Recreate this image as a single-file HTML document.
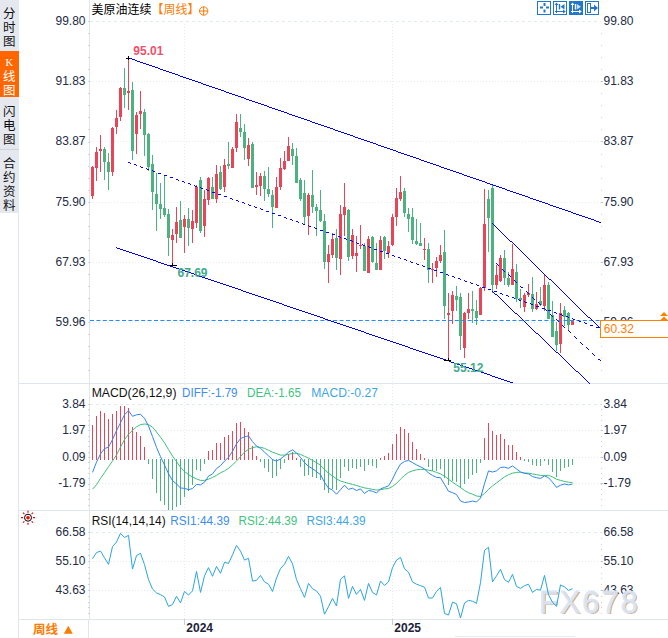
<!DOCTYPE html>
<html><head><meta charset="utf-8"><title>chart</title>
<style>
html,body{margin:0;padding:0;background:#fff}
body{width:668px;height:638px;overflow:hidden;position:relative}
svg{position:absolute;left:0;top:0;display:block}
text{font-family:"Liberation Sans",sans-serif}
.cjk{font-family:"Liberation Sans","Noto Sans CJK SC",sans-serif}
</style></head><body>
<svg width="668" height="638" viewBox="0 0 668 638">
<rect width="668" height="638" fill="#fff"/>
<rect x="0" y="0" width="19" height="213" fill="#e5e8ef"/>
<rect x="0" y="51" width="19" height="46" fill="#ff6600"/>
<path d="M0 149.5H19" stroke="#cfd4dc" stroke-width="1"/>
<path d="M18.5 213V638" stroke="#dfe6ee" stroke-width="1" fill="none"/>
<text class="cjk" x="9.2" y="18" font-size="12.5" fill="#111" text-anchor="middle">分</text>
<text class="cjk" x="9.2" y="32" font-size="12.5" fill="#111" text-anchor="middle">时</text>
<text class="cjk" x="9.2" y="46" font-size="12.5" fill="#111" text-anchor="middle">图</text>
<text class="cjk" x="9.2" y="81" font-size="12.5" fill="#fff" text-anchor="middle">线</text>
<text class="cjk" x="9.2" y="95" font-size="12.5" fill="#fff" text-anchor="middle">图</text>
<text class="cjk" x="9.2" y="116" font-size="12.5" fill="#111" text-anchor="middle">闪</text>
<text class="cjk" x="9.2" y="130" font-size="12.5" fill="#111" text-anchor="middle">电</text>
<text class="cjk" x="9.2" y="144" font-size="12.5" fill="#111" text-anchor="middle">图</text>
<text class="cjk" x="9.2" y="168" font-size="12.5" fill="#111" text-anchor="middle">合</text>
<text class="cjk" x="9.2" y="182" font-size="12.5" fill="#111" text-anchor="middle">约</text>
<text class="cjk" x="9.2" y="196" font-size="12.5" fill="#111" text-anchor="middle">资</text>
<text class="cjk" x="9.2" y="210" font-size="12.5" fill="#111" text-anchor="middle">料</text>
<text x="9.3" y="65.6" font-size="10.5" fill="#fff" text-anchor="middle" style="font-family:'Liberation Serif',serif">K</text>
<path d="M89.5 0V619.5" stroke="#dfe6ee" fill="none"/>
<path d="M19 383.5H668" stroke="#dfe6ee" fill="none"/>
<path d="M19 510.5H668" stroke="#dfe6ee" fill="none"/>
<path d="M19 619.5H668" stroke="#dfe6ee" fill="none"/>
<path d="M88 21.5H90M88 33.5H90M88 45.5H90M88 57.5H90M88 69.5H90M88 81.5H90M88 93.5H90M88 105.5H90M88 117.5H90M88 129.5H90M88 142.5H90M88 154.5H90M88 166.5H90M88 178.5H90M88 190.5H90M88 202.5H90M88 214.5H90M88 226.5H90M88 238.5H90M88 250.5H90M88 262.5H90M88 274.5H90M88 286.5H90M88 298.5H90M88 310.5H90M88 322.5H90M88 334.5H90M88 346.5H90M88 358.5H90M88 370.5H90" stroke="#cdd6e0" fill="none"/>
<path d="M601 33h1v1h-1zM601 45h1v1h-1zM601 57h1v1h-1zM601 69h1v1h-1zM601 81h1v1h-1zM601 93h1v1h-1zM601 105h1v1h-1zM601 117h1v1h-1zM601 129h1v1h-1zM601 141h1v1h-1zM601 154h1v1h-1zM601 166h1v1h-1zM601 178h1v1h-1zM601 190h1v1h-1zM601 202h1v1h-1zM601 214h1v1h-1zM601 226h1v1h-1zM601 238h1v1h-1zM601 250h1v1h-1zM601 262h1v1h-1zM601 274h1v1h-1zM601 286h1v1h-1zM601 298h1v1h-1zM601 310h1v1h-1zM601 322h1v1h-1zM601 334h1v1h-1zM601 346h1v1h-1zM601 358h1v1h-1zM601 370h1v1h-1z" fill="#c9d0dc"/>
<path d="M601 404h1v1h-1zM601 409h1v1h-1zM601 415h1v1h-1zM601 420h1v1h-1zM601 425h1v1h-1zM601 430h1v1h-1zM601 436h1v1h-1zM601 441h1v1h-1zM601 446h1v1h-1zM601 452h1v1h-1zM601 457h1v1h-1zM601 462h1v1h-1zM601 468h1v1h-1zM601 473h1v1h-1zM601 478h1v1h-1zM601 484h1v1h-1zM601 489h1v1h-1zM601 494h1v1h-1zM601 499h1v1h-1zM601 505h1v1h-1z" fill="#c9d0dc"/>
<path d="M601 532h1v1h-1zM601 538h1v1h-1zM601 544h1v1h-1zM601 549h1v1h-1zM601 555h1v1h-1zM601 561h1v1h-1zM601 567h1v1h-1zM601 573h1v1h-1zM601 578h1v1h-1zM601 584h1v1h-1zM601 590h1v1h-1zM601 596h1v1h-1zM601 602h1v1h-1zM601 607h1v1h-1zM601 613h1v1h-1z" fill="#c9d0dc"/>
<path d="M88 404.5H90M88 409.5H90M88 415.5H90M88 420.5H90M88 425.5H90M88 430.5H90M88 436.5H90M88 441.5H90M88 446.5H90M88 452.5H90M88 457.5H90M88 462.5H90M88 468.5H90M88 473.5H90M88 478.5H90M88 484.5H90M88 489.5H90M88 494.5H90M88 499.5H90M88 505.5H90" stroke="#cdd6e0" fill="none"/>
<path d="M88 532.5H90M88 538.5H90M88 544.5H90M88 549.5H90M88 555.5H90M88 561.5H90M88 567.5H90M88 573.5H90M88 578.5H90M88 584.5H90M88 590.5H90M88 596.5H90M88 602.5H90M88 607.5H90M88 613.5H90" stroke="#cdd6e0" fill="none"/>
<path d="M601 81.5H603M601 141.5H603M601 202.5H603M601 262.5H603M601 322.5H603M601 430.5H603M601 457.5H603M601 483.5H603M601 561.5H603M601 590.5H603" stroke="#b9c4d4" fill="none"/>
<path d="M90 21.5H601" stroke="#e1e9f1" stroke-dasharray="3 3" fill="none"/>
<path d="M90 81.5H601" stroke="#e7ebf1" stroke-dasharray="1 2" fill="none"/>
<path d="M90 141.5H601" stroke="#e7ebf1" stroke-dasharray="1 2" fill="none"/>
<path d="M90 202.5H601" stroke="#e7ebf1" stroke-dasharray="1 2" fill="none"/>
<path d="M90 262.5H601" stroke="#e7ebf1" stroke-dasharray="1 2" fill="none"/>
<path d="M90 322.5H601" stroke="#e7ebf1" stroke-dasharray="1 2" fill="none"/>
<path d="M90 404.5H601" stroke="#e1e9f1" stroke-dasharray="3 3" fill="none"/>
<path d="M90 430.5H601" stroke="#e7ebf1" stroke-dasharray="1 2" fill="none"/>
<path d="M90 457.5H601" stroke="#e7ebf1" stroke-dasharray="1 2" fill="none"/>
<path d="M90 483.5H601" stroke="#e7ebf1" stroke-dasharray="1 2" fill="none"/>
<path d="M90 532.5H601" stroke="#e1e9f1" stroke-dasharray="3 3" fill="none"/>
<path d="M90 561.5H601" stroke="#e7ebf1" stroke-dasharray="1 2" fill="none"/>
<path d="M90 590.5H601" stroke="#e7ebf1" stroke-dasharray="1 2" fill="none"/>
<path d="M184.5 24V619" stroke="#e7ebf1" stroke-dasharray="1 2" fill="none"/>
<path d="M184.5 619V625" stroke="#c5cedb" fill="none"/>
<path d="M392.5 24V619" stroke="#e7ebf1" stroke-dasharray="1 2" fill="none"/>
<path d="M392.5 619V625" stroke="#c5cedb" fill="none"/>
<path d="M92 166h1v33h-1zM91 167h3v29h-3zM96 147h1v34h-1zM95 152h3v16h-3zM100 135h1v37h-1zM99 149h3v2h-3zM112 127h1v49h-1zM111 128h3v44h-3zM116 110h1v24h-1zM115 118h3v9h-3zM120 87h1v34h-1zM119 88h3v29h-3zM128 58h1v52h-1zM127 91h3v2h-3zM136 112h1v42h-1zM135 115h3v19h-3zM140 91h1v38h-1zM139 111h3v3h-3zM172 229h1v36h-1zM171 235h3v5h-3zM176 207h1v36h-1zM175 222h3v12h-3zM184 215h1v38h-1zM183 219h3v8h-3zM192 210h1v33h-1zM191 221h3v8h-3zM196 185h1v43h-1zM195 187h3v36h-3zM204 190h1v47h-1zM203 199h3v27h-3zM208 177h1v28h-1zM207 178h3v22h-3zM216 165h1v38h-1zM215 174h3v25h-3zM224 159h1v33h-1zM223 165h3v22h-3zM232 147h1v21h-1zM231 149h3v19h-3zM236 114h1v38h-1zM235 122h3v26h-3zM248 138h1v28h-1zM247 145h3v14h-3zM256 172h1v23h-1zM255 185h3v2h-3zM260 173h1v23h-1zM259 176h3v10h-3zM276 177h1v31h-1zM275 187h3v21h-3zM280 158h1v32h-1zM279 168h3v19h-3zM284 151h1v19h-1zM283 161h3v8h-3zM288 137h1v24h-1zM287 146h3v15h-3zM308 193h1v42h-1zM307 195h3v21h-3zM328 245h1v38h-1zM327 254h3v8h-3zM332 233h1v25h-1zM331 239h3v16h-3zM340 205h1v70h-1zM339 214h3v45h-3zM344 183h1v53h-1zM343 207h3v8h-3zM352 229h1v30h-1zM351 235h3v21h-3zM356 236h1v36h-1zM355 253h3v3h-3zM360 225h1v24h-1zM359 245h3v1h-3zM368 236h1v37h-1zM367 239h3v34h-3zM380 236h1v34h-1zM379 240h3v30h-3zM388 241h1v17h-1zM387 246h3v7h-3zM392 214h1v32h-1zM391 217h3v28h-3zM396 188h1v38h-1zM395 198h3v19h-3zM400 176h1v25h-1zM399 192h3v7h-3zM424 238h1v22h-1zM423 249h3v1h-3zM432 263h1v20h-1zM431 269h3v1h-3zM436 257h1v20h-1zM435 261h3v7h-3zM440 245h1v18h-1zM439 255h3v6h-3zM448 293h1v67h-1zM447 313h3v2h-3zM452 291h1v33h-1zM451 295h3v16h-3zM464 312h1v46h-1zM463 313h3v35h-3zM468 293h1v26h-1zM467 309h3v4h-3zM480 287h1v28h-1zM479 288h3v27h-3zM484 189h1v102h-1zM483 224h3v64h-3zM496 265h1v24h-1zM495 275h3v10h-3zM500 255h1v27h-1zM499 258h3v23h-3zM512 244h1v41h-1zM511 269h3v16h-3zM524 293h1v19h-1zM523 295h3v12h-3zM528 284h1v13h-1zM527 293h3v2h-3zM536 292h1v18h-1zM535 304h3v5h-3zM544 275h1v36h-1zM543 285h3v21h-3zM560 303h1v50h-1zM559 313h3v31h-3zM572 320h1v5h-1zM571 321h3v4h-3z" fill="#ea4459" shape-rendering="crispEdges"/>
<path d="M104 147h1v33h-1zM103 149h3v13h-3zM108 153h1v37h-1zM107 162h3v10h-3zM124 68h1v40h-1zM123 88h3v7h-3zM132 82h1v78h-1zM131 90h3v61h-3zM144 109h1v47h-1zM143 112h3v23h-3zM148 133h1v38h-1zM147 134h3v33h-3zM152 155h1v55h-1zM151 164h3v28h-3zM156 173h1v58h-1zM155 194h3v10h-3zM160 183h1v36h-1zM159 204h3v5h-3zM164 176h1v41h-1zM163 208h3v7h-3zM168 209h1v47h-1zM167 214h3v24h-3zM180 201h1v37h-1zM179 220h3v18h-3zM188 208h1v38h-1zM187 219h3v9h-3zM200 177h1v56h-1zM199 180h3v51h-3zM212 177h1v22h-1zM211 187h3v12h-3zM220 166h1v24h-1zM219 172h3v17h-3zM228 142h1v27h-1zM227 164h3v2h-3zM240 114h1v23h-1zM239 128h3v4h-3zM244 124h1v36h-1zM243 132h3v16h-3zM252 142h1v46h-1zM251 144h3v44h-3zM264 171h1v30h-1zM263 176h3v13h-3zM268 167h1v30h-1zM267 189h3v5h-3zM272 190h1v38h-1zM271 195h3v12h-3zM292 143h1v22h-1zM291 149h3v7h-3zM296 148h1v35h-1zM295 156h3v27h-3zM300 178h1v23h-1zM299 180h3v19h-3zM304 180h1v44h-1zM303 193h3v24h-3zM312 170h1v43h-1zM311 195h3v12h-3zM316 204h1v32h-1zM315 207h3v4h-3zM320 190h1v32h-1zM319 210h3v11h-3zM324 214h1v55h-1zM323 221h3v41h-3zM336 229h1v41h-1zM335 238h3v20h-3zM348 209h1v52h-1zM347 210h3v47h-3zM364 243h1v28h-1zM363 246h3v25h-3zM372 236h1v27h-1zM371 237h3v25h-3zM376 243h1v27h-1zM375 263h3v7h-3zM384 236h1v23h-1zM383 237h3v14h-3zM404 188h1v29h-1zM403 191h3v22h-3zM408 208h1v24h-1zM407 214h3v5h-3zM412 208h1v36h-1zM411 217h3v23h-3zM416 219h1v26h-1zM415 241h3v3h-3zM420 223h1v23h-1zM419 243h3v3h-3zM428 243h1v40h-1zM427 249h3v21h-3zM444 230h1v89h-1zM443 252h3v54h-3zM456 286h1v25h-1zM455 296h3v4h-3zM460 293h1v57h-1zM459 297h3v39h-3zM472 291h1v32h-1zM471 309h3v2h-3zM476 300h1v25h-1zM475 311h3v7h-3zM488 190h1v62h-1zM487 199h3v19h-3zM492 185h1v108h-1zM491 188h3v97h-3zM504 250h1v35h-1zM503 258h3v20h-3zM508 272h1v15h-1zM507 278h3v7h-3zM516 264h1v38h-1zM515 272h3v27h-3zM520 289h1v19h-1zM519 298h3v2h-3zM532 277h1v35h-1zM531 294h3v15h-3zM540 287h1v19h-1zM539 301h3v4h-3zM548 282h1v37h-1zM547 285h3v34h-3zM552 301h1v36h-1zM551 315h3v22h-3zM556 322h1v29h-1zM555 331h3v14h-3zM564 306h1v20h-1zM563 310h3v7h-3zM568 312h1v19h-1zM567 313h3v12h-3z" fill="#4bb280" shape-rendering="crispEdges"/>
<clipPath id="mc"><rect x="90" y="384" width="512" height="126"/></clipPath>
<g clip-path="url(#mc)"><path d="M92 425h1v35h-1zM96 416h1v44h-1zM100 411h1v49h-1zM104 413h1v47h-1zM108 419h1v41h-1zM112 414h1v46h-1zM116 411h1v49h-1zM120 406h1v54h-1zM124 406h1v54h-1zM128 408h1v52h-1zM132 427h1v33h-1zM136 432h1v28h-1zM140 436h1v24h-1zM144 447h1v13h-1zM208 451h1v9h-1zM212 450h1v10h-1zM216 443h1v17h-1zM220 443h1v17h-1zM224 437h1v23h-1zM228 435h1v25h-1zM232 431h1v29h-1zM236 423h1v37h-1zM240 422h1v38h-1zM244 428h1v32h-1zM248 432h1v28h-1zM252 446h1v14h-1zM256 456h1v4h-1zM288 454h1v6h-1zM292 452h1v8h-1zM296 458h1v2h-1zM380 458h1v2h-1zM384 456h1v4h-1zM388 453h1v7h-1zM392 444h1v16h-1zM396 434h1v26h-1zM400 427h1v33h-1zM404 429h1v31h-1zM408 433h1v27h-1zM412 442h1v18h-1zM416 449h1v11h-1zM420 454h1v6h-1zM424 458h1v2h-1zM484 438h1v22h-1zM488 423h1v37h-1zM492 431h1v29h-1zM496 435h1v25h-1zM500 434h1v26h-1zM504 439h1v21h-1zM508 445h1v15h-1zM512 445h1v15h-1zM516 452h1v8h-1zM520 457h1v3h-1z" fill="#ea4459" shape-rendering="crispEdges"/><path d="M148 459h1v5h-1zM152 459h1v20h-1zM156 459h1v34h-1zM160 459h1v42h-1zM164 459h1v46h-1zM168 459h1v52h-1zM172 459h1v52h-1zM176 459h1v48h-1zM180 459h1v46h-1zM184 459h1v38h-1zM188 459h1v32h-1zM192 459h1v26h-1zM196 459h1v11h-1zM200 459h1v12h-1zM204 459h1v5h-1zM260 459h1v3h-1zM264 459h1v9h-1zM268 459h1v13h-1zM272 459h1v19h-1zM276 459h1v17h-1zM280 459h1v10h-1zM284 459h1v4h-1zM300 459h1v8h-1zM304 459h1v17h-1zM308 459h1v16h-1zM312 459h1v18h-1zM316 459h1v19h-1zM320 459h1v21h-1zM324 459h1v31h-1zM328 459h1v34h-1zM332 459h1v30h-1zM336 459h1v31h-1zM340 459h1v19h-1zM344 459h1v8h-1zM348 459h1v12h-1zM352 459h1v9h-1zM356 459h1v10h-1zM360 459h1v8h-1zM364 459h1v12h-1zM368 459h1v6h-1zM372 459h1v7h-1zM376 459h1v9h-1zM428 459h1v8h-1zM432 459h1v12h-1zM436 459h1v12h-1zM440 459h1v10h-1zM444 459h1v19h-1zM448 459h1v26h-1zM452 459h1v22h-1zM456 459h1v23h-1zM460 459h1v29h-1zM464 459h1v25h-1zM468 459h1v20h-1zM472 459h1v16h-1zM476 459h1v14h-1zM480 459h1v4h-1zM524 459h1v2h-1zM528 459h1v3h-1zM532 459h1v6h-1zM536 459h1v7h-1zM540 459h1v7h-1zM544 459h1v2h-1zM548 459h1v6h-1zM552 459h1v13h-1zM556 459h1v18h-1zM560 459h1v12h-1zM564 459h1v9h-1zM568 459h1v8h-1zM572 459h1v6h-1z" fill="#4bb280" shape-rendering="crispEdges"/>
<path d="M92.5 489.2L96.5 484.7L100.5 478.4L104.5 472.7L108.5 466.7L112.5 461.0L116.5 455.0L120.5 447.1L124.5 439.6L128.5 434.3L132.5 430.3L136.5 426.8L140.5 424.6L144.5 424.0L148.5 424.5L152.5 427.2L156.5 432.0L160.5 437.2L164.5 442.8L168.5 449.6L172.5 456.0L176.5 461.6L180.5 467.2L184.5 471.4L188.5 474.6L192.5 476.9L196.5 478.9L200.5 480.4L204.5 480.4L208.5 479.2L212.5 477.4L216.5 475.4L220.5 472.8L224.5 470.9L228.5 468.3L232.5 464.9L236.5 461.0L240.5 456.6L244.5 452.1L248.5 449.4L252.5 447.6L256.5 446.8L260.5 447.3L264.5 448.3L268.5 450.3L272.5 452.1L276.5 453.6L280.5 455.1L284.5 455.1L288.5 454.4L292.5 453.3L296.5 453.3L300.5 454.4L304.5 456.3L308.5 458.1L312.5 460.4L316.5 462.6L320.5 465.3L324.5 469.4L328.5 473.2L332.5 476.0L336.5 478.9L340.5 481.0L344.5 482.2L348.5 483.4L352.5 484.4L356.5 485.5L360.5 486.7L364.5 487.9L368.5 488.5L372.5 489.4L376.5 490.0L380.5 489.7L384.5 488.9L388.5 488.5L392.5 486.4L396.5 483.4L400.5 479.2L404.5 475.4L408.5 472.4L412.5 470.9L416.5 469.8L420.5 469.4L424.5 469.4L428.5 470.2L432.5 470.9L436.5 472.4L440.5 473.9L444.5 476.2L448.5 479.2L452.5 482.2L456.5 484.9L460.5 487.4L464.5 490.5L468.5 492.7L472.5 494.2L476.5 496.0L480.5 496.5L484.5 493.5L488.5 489.4L492.5 485.9L496.5 482.9L500.5 479.9L504.5 476.9L508.5 474.7L512.5 473.2L516.5 472.4L520.5 472.2L524.5 473.0L528.5 473.2L532.5 473.9L536.5 474.7L540.5 475.4L544.5 475.4L548.5 475.4L552.5 476.9L556.5 479.2L560.5 480.4L564.5 481.4L568.5 482.2L572.5 482.5" stroke="#3cc07e" stroke-width="1" fill="none" stroke-linejoin="round"/>
<path d="M92.5 472.4L96.5 462.2L100.5 453.9L104.5 448.6L108.5 447.1L112.5 439.6L116.5 430.6L120.5 422.8L124.5 414.8L128.5 410.7L132.5 416.3L136.5 414.8L140.5 414.3L144.5 418.3L148.5 426.0L152.5 436.5L156.5 447.4L160.5 456.7L164.5 465.0L168.5 473.7L172.5 480.5L176.5 483.9L180.5 488.0L184.5 488.3L188.5 489.7L192.5 488.5L196.5 484.4L200.5 484.9L204.5 482.2L208.5 476.2L212.5 473.9L216.5 468.6L220.5 465.6L224.5 461.1L228.5 457.4L232.5 451.3L236.5 443.8L240.5 438.6L244.5 436.8L248.5 435.9L252.5 441.6L256.5 446.1L260.5 448.3L264.5 452.1L268.5 455.9L272.5 459.6L276.5 461.1L280.5 458.9L284.5 455.9L288.5 452.1L292.5 449.8L296.5 452.9L300.5 457.4L304.5 462.6L308.5 466.4L312.5 468.6L316.5 471.7L320.5 474.7L324.5 482.2L328.5 488.2L332.5 490.0L336.5 494.2L340.5 489.7L344.5 485.2L348.5 489.4L352.5 488.2L356.5 490.5L360.5 488.9L364.5 493.5L368.5 490.5L372.5 491.2L376.5 493.0L380.5 488.9L384.5 487.4L388.5 485.9L392.5 479.2L396.5 470.9L400.5 464.1L404.5 461.4L408.5 460.4L412.5 462.6L416.5 464.9L420.5 466.8L424.5 468.9L428.5 473.0L432.5 475.4L436.5 477.4L440.5 477.7L444.5 484.4L448.5 491.2L452.5 492.7L456.5 494.5L460.5 501.0L464.5 502.5L468.5 502.0L472.5 501.0L476.5 502.0L480.5 498.0L484.5 483.7L488.5 470.9L492.5 472.0L496.5 470.9L500.5 467.4L504.5 467.1L508.5 468.3L512.5 465.9L516.5 468.9L520.5 472.0L524.5 473.3L528.5 473.9L532.5 476.5L536.5 477.7L540.5 478.4L544.5 475.9L548.5 477.7L552.5 482.2L556.5 487.4L560.5 485.2L564.5 484.0L568.5 484.9L572.5 484.0" stroke="#2e86f0" stroke-width="1" fill="none" stroke-linejoin="round"/>
</g>
<path d="M90 320.5H600" stroke="#1e8bff" stroke-width="1.2" stroke-dasharray="4 2.4" fill="none"/>
<path d="M128 57h1v1h-1zM129 58h3v1h-3zM132 59h3v1h-3zM135 60h2v1h-2zM137 61h3v1h-3zM140 62h3v1h-3zM143 63h3v1h-3zM146 64h3v1h-3zM149 65h3v1h-3zM152 66h3v1h-3zM155 67h3v1h-3zM158 68h2v1h-2zM160 69h3v1h-3zM163 70h3v1h-3zM166 71h3v1h-3zM169 72h3v1h-3zM172 73h3v1h-3zM175 74h3v1h-3zM178 75h2v1h-2zM180 76h3v1h-3zM183 77h3v1h-3zM186 78h3v1h-3zM189 79h3v1h-3zM192 80h3v1h-3zM195 81h3v1h-3zM198 82h3v1h-3zM201 83h2v1h-2zM203 84h3v1h-3zM206 85h3v1h-3zM209 86h3v1h-3zM212 87h3v1h-3zM215 88h3v1h-3zM218 89h3v1h-3zM221 90h3v1h-3zM224 91h2v1h-2zM226 92h3v1h-3zM229 93h3v1h-3zM232 94h3v1h-3zM235 95h3v1h-3zM238 96h3v1h-3zM241 97h3v1h-3zM244 98h2v1h-2zM246 99h3v1h-3zM249 100h3v1h-3zM252 101h3v1h-3zM255 102h3v1h-3zM258 103h3v1h-3zM261 104h3v1h-3zM264 105h3v1h-3zM267 106h2v1h-2zM269 107h3v1h-3zM272 108h3v1h-3zM275 109h3v1h-3zM278 110h3v1h-3zM281 111h3v1h-3zM284 112h3v1h-3zM287 113h2v1h-2zM289 114h3v1h-3zM292 115h3v1h-3zM295 116h3v1h-3zM298 117h3v1h-3zM301 118h3v1h-3zM304 119h3v1h-3zM307 120h3v1h-3zM310 121h2v1h-2zM312 122h3v1h-3zM315 123h3v1h-3zM318 124h3v1h-3zM321 125h3v1h-3zM324 126h3v1h-3zM327 127h3v1h-3zM330 128h3v1h-3zM333 129h2v1h-2zM335 130h3v1h-3zM338 131h3v1h-3zM341 132h3v1h-3zM344 133h3v1h-3zM347 134h3v1h-3zM350 135h3v1h-3zM353 136h2v1h-2zM355 137h3v1h-3zM358 138h3v1h-3zM361 139h3v1h-3zM364 140h3v1h-3zM367 141h3v1h-3zM370 142h3v1h-3zM373 143h3v1h-3zM376 144h2v1h-2zM378 145h3v1h-3zM381 146h3v1h-3zM384 147h3v1h-3zM387 148h3v1h-3zM390 149h3v1h-3zM393 150h3v1h-3zM396 151h2v1h-2zM398 152h3v1h-3zM401 153h3v1h-3zM404 154h3v1h-3zM407 155h3v1h-3zM410 156h3v1h-3zM413 157h3v1h-3zM416 158h3v1h-3zM419 159h2v1h-2zM421 160h3v1h-3zM424 161h3v1h-3zM427 162h3v1h-3zM430 163h3v1h-3zM433 164h3v1h-3zM436 165h3v1h-3zM439 166h2v1h-2zM441 167h3v1h-3zM444 168h3v1h-3zM447 169h3v1h-3zM450 170h3v1h-3zM453 171h3v1h-3zM456 172h3v1h-3zM459 173h3v1h-3zM462 174h2v1h-2zM464 175h3v1h-3zM467 176h3v1h-3zM470 177h3v1h-3zM473 178h3v1h-3zM476 179h3v1h-3zM479 180h3v1h-3zM482 181h3v1h-3zM485 182h2v1h-2zM487 183h3v1h-3zM490 184h3v1h-3zM493 185h3v1h-3zM496 186h3v1h-3zM499 187h3v1h-3zM502 188h3v1h-3zM505 189h2v1h-2zM507 190h3v1h-3zM510 191h3v1h-3zM513 192h3v1h-3zM516 193h3v1h-3zM519 194h3v1h-3zM522 195h3v1h-3zM525 196h3v1h-3zM528 197h2v1h-2zM530 198h3v1h-3zM533 199h3v1h-3zM536 200h3v1h-3zM539 201h3v1h-3zM542 202h3v1h-3zM545 203h3v1h-3zM548 204h2v1h-2zM550 205h3v1h-3zM553 206h3v1h-3zM556 207h3v1h-3zM559 208h3v1h-3zM562 209h3v1h-3zM565 210h3v1h-3zM568 211h3v1h-3zM571 212h2v1h-2zM573 213h3v1h-3zM576 214h3v1h-3zM579 215h3v1h-3zM582 216h3v1h-3zM585 217h3v1h-3zM588 218h3v1h-3zM591 219h3v1h-3zM594 220h2v1h-2zM596 221h3v1h-3zM599 222h2v1h-2zM116 247h1v1h-1zM117 248h3v1h-3zM120 249h3v1h-3zM123 250h3v1h-3zM126 251h3v1h-3zM129 252h3v1h-3zM132 253h3v1h-3zM135 254h3v1h-3zM138 255h3v1h-3zM141 256h3v1h-3zM144 257h3v1h-3zM147 258h3v1h-3zM150 259h3v1h-3zM153 260h3v1h-3zM156 261h2v1h-2zM158 262h3v1h-3zM161 263h3v1h-3zM164 264h3v1h-3zM167 265h3v1h-3zM170 266h3v1h-3zM173 267h3v1h-3zM176 268h3v1h-3zM179 269h3v1h-3zM182 270h3v1h-3zM185 271h3v1h-3zM188 272h3v1h-3zM191 273h3v1h-3zM194 274h3v1h-3zM197 275h2v1h-2zM199 276h3v1h-3zM202 277h3v1h-3zM205 278h3v1h-3zM208 279h3v1h-3zM211 280h3v1h-3zM214 281h3v1h-3zM217 282h3v1h-3zM220 283h3v1h-3zM223 284h3v1h-3zM226 285h3v1h-3zM229 286h3v1h-3zM232 287h3v1h-3zM235 288h3v1h-3zM238 289h3v1h-3zM241 290h2v1h-2zM243 291h3v1h-3zM246 292h3v1h-3zM249 293h3v1h-3zM252 294h3v1h-3zM255 295h3v1h-3zM258 296h3v1h-3zM261 297h3v1h-3zM264 298h3v1h-3zM267 299h3v1h-3zM270 300h3v1h-3zM273 301h3v1h-3zM276 302h3v1h-3zM279 303h3v1h-3zM282 304h2v1h-2zM284 305h3v1h-3zM287 306h3v1h-3zM290 307h3v1h-3zM293 308h3v1h-3zM296 309h3v1h-3zM299 310h3v1h-3zM302 311h3v1h-3zM305 312h3v1h-3zM308 313h3v1h-3zM311 314h3v1h-3zM314 315h3v1h-3zM317 316h3v1h-3zM320 317h3v1h-3zM323 318h2v1h-2zM325 319h3v1h-3zM328 320h3v1h-3zM331 321h3v1h-3zM334 322h3v1h-3zM337 323h3v1h-3zM340 324h3v1h-3zM343 325h3v1h-3zM346 326h3v1h-3zM349 327h3v1h-3zM352 328h3v1h-3zM355 329h3v1h-3zM358 330h3v1h-3zM361 331h3v1h-3zM364 332h2v1h-2zM366 333h3v1h-3zM369 334h3v1h-3zM372 335h3v1h-3zM375 336h3v1h-3zM378 337h3v1h-3zM381 338h3v1h-3zM384 339h3v1h-3zM387 340h3v1h-3zM390 341h3v1h-3zM393 342h3v1h-3zM396 343h3v1h-3zM399 344h3v1h-3zM402 345h3v1h-3zM405 346h3v1h-3zM408 347h2v1h-2zM410 348h3v1h-3zM413 349h3v1h-3zM416 350h3v1h-3zM419 351h3v1h-3zM422 352h3v1h-3zM425 353h3v1h-3zM428 354h3v1h-3zM431 355h3v1h-3zM434 356h3v1h-3zM437 357h3v1h-3zM440 358h3v1h-3zM443 359h3v1h-3zM446 360h3v1h-3zM449 361h2v1h-2zM451 362h3v1h-3zM454 363h3v1h-3zM457 364h3v1h-3zM460 365h3v1h-3zM463 366h3v1h-3zM466 367h3v1h-3zM469 368h3v1h-3zM472 369h3v1h-3zM475 370h3v1h-3zM478 371h3v1h-3zM481 372h3v1h-3zM484 373h3v1h-3zM487 374h3v1h-3zM490 375h2v1h-2zM492 376h3v1h-3zM495 377h3v1h-3zM498 378h3v1h-3zM501 379h3v1h-3zM504 380h3v1h-3zM507 381h3v1h-3zM510 382h3v1h-3zM128 162h2v1h-2zM130 163h1v1h-1zM134 164h2v1h-2zM136 165h1v1h-1zM140 166h1v1h-1zM141 167h2v1h-2zM146 168h1v1h-1zM147 169h2v1h-2zM152 170h1v1h-1zM153 171h2v1h-2zM158 173h3v1h-3zM164 175h3v1h-3zM170 177h3v1h-3zM176 179h2v1h-2zM178 180h1v1h-1zM182 181h2v1h-2zM184 182h1v1h-1zM188 183h2v1h-2zM190 184h1v1h-1zM194 185h1v1h-1zM195 186h2v1h-2zM200 187h1v1h-1zM201 188h2v1h-2zM206 189h1v1h-1zM207 190h2v1h-2zM212 192h3v1h-3zM218 194h3v1h-3zM224 196h3v1h-3zM230 198h2v1h-2zM232 199h1v1h-1zM236 200h2v1h-2zM238 201h1v1h-1zM242 202h2v1h-2zM244 203h1v1h-1zM248 204h1v1h-1zM249 205h2v1h-2zM254 206h1v1h-1zM255 207h2v1h-2zM260 208h1v1h-1zM261 209h2v1h-2zM266 211h3v1h-3zM272 213h3v1h-3zM278 215h3v1h-3zM284 217h2v1h-2zM286 218h1v1h-1zM290 219h2v1h-2zM292 220h1v1h-1zM296 221h2v1h-2zM298 222h1v1h-1zM302 223h1v1h-1zM303 224h2v1h-2zM308 225h1v1h-1zM309 226h2v1h-2zM314 227h1v1h-1zM315 228h2v1h-2zM320 230h3v1h-3zM326 232h3v1h-3zM332 234h3v1h-3zM338 236h2v1h-2zM340 237h1v1h-1zM344 238h2v1h-2zM346 239h1v1h-1zM350 240h2v1h-2zM352 241h1v1h-1zM356 242h1v1h-1zM357 243h2v1h-2zM362 244h1v1h-1zM363 245h2v1h-2zM368 246h1v1h-1zM369 247h2v1h-2zM374 249h3v1h-3zM380 251h3v1h-3zM386 253h3v1h-3zM392 255h2v1h-2zM394 256h1v1h-1zM398 257h2v1h-2zM400 258h1v1h-1zM404 259h2v1h-2zM406 260h1v1h-1zM410 261h1v1h-1zM411 262h2v1h-2zM416 263h1v1h-1zM417 264h2v1h-2zM422 265h1v1h-1zM423 266h2v1h-2zM428 268h3v1h-3zM434 270h3v1h-3zM440 272h3v1h-3zM446 274h2v1h-2zM448 275h1v1h-1zM452 276h2v1h-2zM454 277h1v1h-1zM458 278h2v1h-2zM460 279h1v1h-1zM464 280h1v1h-1zM465 281h2v1h-2zM470 282h1v1h-1zM471 283h2v1h-2zM476 284h1v1h-1zM477 285h2v1h-2zM482 287h3v1h-3zM488 289h3v1h-3zM494 291h3v1h-3zM500 293h2v1h-2zM502 294h1v1h-1zM506 295h2v1h-2zM508 296h1v1h-1zM512 297h2v1h-2zM514 298h1v1h-1zM518 299h1v1h-1zM519 300h2v1h-2zM524 301h1v1h-1zM525 302h2v1h-2zM530 303h1v1h-1zM531 304h2v1h-2zM536 306h3v1h-3zM542 308h3v1h-3zM548 310h3v1h-3zM554 312h2v1h-2zM556 313h1v1h-1zM560 314h2v1h-2zM562 315h1v1h-1zM566 316h2v1h-2zM568 317h1v1h-1zM572 318h1v1h-1zM573 319h2v1h-2zM578 320h1v1h-1zM579 321h2v1h-2zM584 322h1v1h-1zM585 323h2v1h-2zM590 325h3v1h-3zM596 327h3v1h-3zM492 223h1v1h-1zM493 224h1v1h-1zM494 225h1v1h-1zM495 226h1v1h-1zM496 227h1v1h-1zM497 228h1v1h-1zM498 229h1v1h-1zM499 230h1v1h-1zM500 231h1v1h-1zM501 232h1v1h-1zM502 233h1v1h-1zM503 234h1v1h-1zM504 235h1v1h-1zM505 236h1v1h-1zM506 237h1v1h-1zM507 238h1v1h-1zM508 239h1v1h-1zM509 240h1v1h-1zM510 241h2v1h-2zM512 242h1v1h-1zM513 243h1v1h-1zM514 244h1v1h-1zM515 245h1v1h-1zM516 246h1v1h-1zM517 247h1v1h-1zM518 248h1v1h-1zM519 249h1v1h-1zM520 250h1v1h-1zM521 251h1v1h-1zM522 252h1v1h-1zM523 253h1v1h-1zM524 254h1v1h-1zM525 255h1v1h-1zM526 256h1v1h-1zM527 257h1v1h-1zM528 258h1v1h-1zM529 259h1v1h-1zM530 260h1v1h-1zM531 261h1v1h-1zM532 262h1v1h-1zM533 263h1v1h-1zM534 264h1v1h-1zM535 265h1v1h-1zM536 266h1v1h-1zM537 267h1v1h-1zM538 268h1v1h-1zM539 269h1v1h-1zM540 270h1v1h-1zM541 271h1v1h-1zM542 272h1v1h-1zM543 273h1v1h-1zM544 274h1v1h-1zM545 275h1v1h-1zM546 276h1v1h-1zM547 277h1v1h-1zM548 278h1v1h-1zM549 279h2v1h-2zM551 280h1v1h-1zM552 281h1v1h-1zM553 282h1v1h-1zM554 283h1v1h-1zM555 284h1v1h-1zM556 285h1v1h-1zM557 286h1v1h-1zM558 287h1v1h-1zM559 288h1v1h-1zM560 289h1v1h-1zM561 290h1v1h-1zM562 291h1v1h-1zM563 292h1v1h-1zM564 293h1v1h-1zM565 294h1v1h-1zM566 295h1v1h-1zM567 296h1v1h-1zM568 297h1v1h-1zM569 298h1v1h-1zM570 299h1v1h-1zM571 300h1v1h-1zM572 301h1v1h-1zM573 302h1v1h-1zM574 303h1v1h-1zM575 304h1v1h-1zM576 305h1v1h-1zM577 306h1v1h-1zM578 307h1v1h-1zM579 308h1v1h-1zM580 309h1v1h-1zM581 310h1v1h-1zM582 311h1v1h-1zM583 312h1v1h-1zM584 313h1v1h-1zM585 314h1v1h-1zM586 315h1v1h-1zM587 316h1v1h-1zM588 317h2v1h-2zM590 318h1v1h-1zM591 319h1v1h-1zM592 320h1v1h-1zM593 321h1v1h-1zM594 322h1v1h-1zM595 323h1v1h-1zM596 324h1v1h-1zM597 325h1v1h-1zM598 326h1v1h-1zM599 327h1v1h-1zM600 328h1v1h-1zM492 291h1v1h-1zM493 292h1v1h-1zM494 293h1v1h-1zM495 294h2v1h-2zM497 295h1v1h-1zM498 296h1v1h-1zM499 297h1v1h-1zM500 298h1v1h-1zM501 299h1v1h-1zM502 300h1v1h-1zM503 301h1v1h-1zM504 302h1v1h-1zM505 303h1v1h-1zM506 304h1v1h-1zM507 305h1v1h-1zM508 306h1v1h-1zM509 307h1v1h-1zM510 308h1v1h-1zM511 309h1v1h-1zM512 310h1v1h-1zM513 311h1v1h-1zM514 312h1v1h-1zM515 313h2v1h-2zM517 314h1v1h-1zM518 315h1v1h-1zM519 316h1v1h-1zM520 317h1v1h-1zM521 318h1v1h-1zM522 319h1v1h-1zM523 320h1v1h-1zM524 321h1v1h-1zM525 322h1v1h-1zM526 323h1v1h-1zM527 324h1v1h-1zM528 325h1v1h-1zM529 326h1v1h-1zM530 327h1v1h-1zM531 328h1v1h-1zM532 329h1v1h-1zM533 330h1v1h-1zM534 331h1v1h-1zM535 332h1v1h-1zM536 333h2v1h-2zM538 334h1v1h-1zM539 335h1v1h-1zM540 336h1v1h-1zM541 337h1v1h-1zM542 338h1v1h-1zM543 339h1v1h-1zM544 340h1v1h-1zM545 341h1v1h-1zM546 342h1v1h-1zM547 343h1v1h-1zM548 344h1v1h-1zM549 345h1v1h-1zM550 346h1v1h-1zM551 347h1v1h-1zM552 348h1v1h-1zM553 349h1v1h-1zM554 350h1v1h-1zM555 351h1v1h-1zM556 352h2v1h-2zM558 353h1v1h-1zM559 354h1v1h-1zM560 355h1v1h-1zM561 356h1v1h-1zM562 357h1v1h-1zM563 358h1v1h-1zM564 359h1v1h-1zM565 360h1v1h-1zM566 361h1v1h-1zM567 362h1v1h-1zM568 363h1v1h-1zM569 364h1v1h-1zM570 365h1v1h-1zM571 366h1v1h-1zM572 367h1v1h-1zM573 368h1v1h-1zM574 369h1v1h-1zM575 370h1v1h-1zM576 371h2v1h-2zM578 372h1v1h-1zM579 373h1v1h-1zM580 374h1v1h-1zM581 375h1v1h-1zM582 376h1v1h-1zM583 377h1v1h-1zM584 378h1v1h-1zM585 379h1v1h-1zM586 380h1v1h-1zM587 381h1v1h-1zM588 382h1v1h-1zM589 383h1v1h-1zM496 263h1v1h-1zM497 264h1v1h-1zM498 265h1v1h-1zM502 269h1v1h-1zM503 270h1v1h-1zM504 271h1v1h-1zM508 274h1v1h-1zM509 275h1v1h-1zM510 276h1v1h-1zM514 280h1v1h-1zM515 281h1v1h-1zM516 282h1v1h-1zM520 286h1v1h-1zM521 287h2v1h-2zM526 291h1v1h-1zM527 292h1v1h-1zM528 293h1v1h-1zM532 297h1v1h-1zM533 298h1v1h-1zM534 299h1v1h-1zM538 302h1v1h-1zM539 303h1v1h-1zM540 304h1v1h-1zM544 308h1v1h-1zM545 309h1v1h-1zM546 310h1v1h-1zM550 314h1v1h-1zM551 315h1v1h-1zM552 316h1v1h-1zM556 319h1v1h-1zM557 320h1v1h-1zM558 321h1v1h-1zM562 325h1v1h-1zM563 326h1v1h-1zM564 327h1v1h-1zM568 330h1v1h-1zM569 331h1v1h-1zM570 332h1v1h-1zM574 336h1v1h-1zM575 337h1v1h-1zM576 338h1v1h-1zM580 342h1v1h-1zM581 343h1v1h-1zM582 344h1v1h-1zM586 347h1v1h-1zM587 348h1v1h-1zM588 349h1v1h-1zM592 353h1v1h-1zM593 354h1v1h-1zM594 355h1v1h-1zM598 359h2v1h-2zM600 360h1v1h-1z" fill="#0000ff" shape-rendering="crispEdges"/>
<path d="M126 58.5H130M128.5 56V60" stroke="#000" fill="none"/>
<path d="M170 265.5H177M172.5 263V266" stroke="#000" fill="none"/>
<path d="M444 360.5H451M448.5 358V361" stroke="#000" fill="none"/>
<text x="85.5" y="24.6" font-size="12" fill="#232b45" text-anchor="end">99.80</text>
<text x="603.5" y="24.6" font-size="12" fill="#232b45" text-anchor="start">99.80</text>
<text x="85.5" y="84.6" font-size="12" fill="#232b45" text-anchor="end">91.83</text>
<text x="603.5" y="84.6" font-size="12" fill="#232b45" text-anchor="start">91.83</text>
<text x="85.5" y="144.6" font-size="12" fill="#232b45" text-anchor="end">83.87</text>
<text x="603.5" y="144.6" font-size="12" fill="#232b45" text-anchor="start">83.87</text>
<text x="85.5" y="205.6" font-size="12" fill="#232b45" text-anchor="end">75.90</text>
<text x="603.5" y="205.6" font-size="12" fill="#232b45" text-anchor="start">75.90</text>
<text x="85.5" y="265.6" font-size="12" fill="#232b45" text-anchor="end">67.93</text>
<text x="603.5" y="265.6" font-size="12" fill="#232b45" text-anchor="start">67.93</text>
<text x="85.5" y="325.6" font-size="12" fill="#232b45" text-anchor="end">59.96</text>
<text x="603.5" y="325.6" font-size="12" fill="#232b45" text-anchor="start">59.96</text>
<text x="85.5" y="407.6" font-size="12" fill="#232b45" text-anchor="end">3.84</text>
<text x="603.5" y="407.6" font-size="12" fill="#232b45" text-anchor="start">3.84</text>
<text x="85.5" y="433.6" font-size="12" fill="#232b45" text-anchor="end">1.97</text>
<text x="603.5" y="433.6" font-size="12" fill="#232b45" text-anchor="start">1.97</text>
<text x="85.5" y="460.6" font-size="12" fill="#232b45" text-anchor="end">0.09</text>
<text x="603.5" y="460.6" font-size="12" fill="#232b45" text-anchor="start">0.09</text>
<text x="85.5" y="486.6" font-size="12" fill="#232b45" text-anchor="end">-1.79</text>
<text x="603.5" y="486.6" font-size="12" fill="#232b45" text-anchor="start">-1.79</text>
<text x="85.5" y="535.6" font-size="12" fill="#232b45" text-anchor="end">66.58</text>
<text x="603.5" y="535.6" font-size="12" fill="#232b45" text-anchor="start">66.58</text>
<text x="85.5" y="564.6" font-size="12" fill="#232b45" text-anchor="end">55.10</text>
<text x="603.5" y="564.6" font-size="12" fill="#232b45" text-anchor="start">55.10</text>
<text x="85.5" y="593.6" font-size="12" fill="#232b45" text-anchor="end">43.63</text>
<text x="603.5" y="593.6" font-size="12" fill="#232b45" text-anchor="start">43.63</text>
<text x="133.3" y="55" font-size="12" fill="#ef4f6b" text-anchor="start" font-weight="bold">95.01</text>
<text x="177.5" y="276.7" font-size="12" fill="#43ab8b" text-anchor="start" font-weight="bold">67.69</text>
<text x="453.3" y="372" font-size="12" fill="#43ab8b" text-anchor="start" font-weight="bold">55.12</text>
<text x="186.3" y="632" font-size="12" fill="#1d2338" text-anchor="start" font-weight="bold">2024</text>
<text x="394.3" y="632" font-size="12" fill="#1d2338" text-anchor="start" font-weight="bold">2025</text>
<text x="91.7" y="397" font-size="12" fill="#111" text-anchor="start" textLength="84.8" lengthAdjust="spacingAndGlyphs">MACD(26,12,9)</text>
<text x="182" y="397" font-size="12" fill="#3d8ef0" text-anchor="start" textLength="55.6" lengthAdjust="spacingAndGlyphs">DIFF:-1.79</text>
<text x="247" y="397" font-size="12" fill="#3fc47f" text-anchor="start" textLength="54" lengthAdjust="spacingAndGlyphs">DEA:-1.65</text>
<text x="311.2" y="397" font-size="12" fill="#3fa6e6" text-anchor="start" textLength="66.8" lengthAdjust="spacingAndGlyphs">MACD:-0.27</text>
<text x="91.7" y="525.2" font-size="12" fill="#111" text-anchor="start" textLength="74" lengthAdjust="spacingAndGlyphs">RSI(14,14,14)</text>
<text x="170.3" y="525.2" font-size="12" fill="#3d8ef0" text-anchor="start" textLength="59.3" lengthAdjust="spacingAndGlyphs">RSI1:44.39</text>
<text x="238.6" y="525.2" font-size="12" fill="#3fc47f" text-anchor="start" textLength="58.6" lengthAdjust="spacingAndGlyphs">RSI2:44.39</text>
<text x="306.4" y="525.2" font-size="12" fill="#3fa6e6" text-anchor="start" textLength="59.2" lengthAdjust="spacingAndGlyphs">RSI3:44.39</text>
<text class="cjk" x="91.5" y="14.3" font-size="12" fill="#000" text-anchor="start">美原油连续</text>
<text class="cjk" x="151.5" y="14.3" font-size="12" fill="#ff7a00" text-anchor="start">【周线】</text>
<g stroke="#ff7a00" fill="none"><circle cx="203.7" cy="11" r="4.2"/><path d="M199.5 11H208M203.7 6.8V15.2"/></g>
<text class="cjk" x="33" y="634.4" font-size="12.5" font-weight="bold" fill="#ff7a00" text-anchor="start">周线</text>
<path d="M63.8 633.8L68.3 625.8L72.8 633.8z" fill="#ff7a00"/>
<path d="M88.5 619V638" stroke="#dfe6ee" fill="none"/>
<rect x="600.5" y="320.5" width="70" height="17" fill="#fff" stroke="#ff8000"/>
<text x="603.8" y="333" font-size="12" fill="#ff8000" text-anchor="start">60.32</text>
<path d="M660 316L664 312L668 316zM660 320.5L664 316.5L668 320.5z" fill="#ff8000"/>
<rect x="537.5" y="1.5" width="13" height="13" fill="#fff" stroke="#2277cc"/>
<rect x="553.5" y="1.5" width="13" height="13" fill="#fff" stroke="#2277cc"/>
<rect x="569.5" y="1.5" width="13" height="13" fill="#2277cc" stroke="#2277cc"/>
<rect x="585.5" y="1.5" width="13" height="13" fill="#fff" stroke="#2277cc"/>
<path d="M540 7.5H543M546 7.5H549M544.5 3V6M544.5 9.5V12.5" stroke="#2277cc" stroke-width="2" fill="none"/>
<g stroke="#2277cc" fill="none"><path d="M556.5 3V13M555 11.5H565"/><path d="M559.5 4V9.5" stroke-width="1.4"/></g><path d="M564.5 4V9.5L560.5 6.75z" fill="#2277cc"/><path d="M554.5 5L556.5 2.5L558.5 5zM563 9.5L565.8 11.5L563 13.5z" fill="#2277cc"/>
<g stroke="#fff" fill="none"><path d="M572.5 3V13M571 11.5H581"/><path d="M575.5 4V9.5" stroke-width="1.4"/></g><path d="M576.8 4V9.5L581 6.75z" fill="#cfe2f7"/><path d="M570.5 5L572.5 2.5L574.5 5zM579 9.5L581.8 11.5L579 13.5z" fill="#fff"/>
<rect x="587.5" y="3.5" width="3" height="9" fill="#fff" stroke="#2277cc"/><path d="M590 8H595" stroke="#2277cc" stroke-width="2" fill="none"/><path d="M594 4.5L598 8L594 11.5z" fill="#2277cc"/>
<g><circle cx="28" cy="517.7" r="3.5" fill="#fff" stroke="#000"/><circle cx="28" cy="517.7" r="1.8" fill="#f00"/><path d="M28 510.7v2M28 522.7v2M21 517.7h2M33 517.7h2M23 512.7l1.4 1.4M31.6 521.3l1.4 1.4M33 512.7l-1.4 1.4M24.4 521.3l-1.4 1.4" stroke="#f00" stroke-width="1.2" fill="none"/></g>
<defs><filter id="wb" x="-5%" y="-20%" width="110%" height="140%"><feGaussianBlur stdDeviation="0.7"/></filter></defs>
<text x="540.4" y="614.4" font-size="30.5" letter-spacing="2.2" fill="#a47a5c" fill-opacity=".6" filter="url(#wb)">FX678</text>
<text x="539" y="613" font-size="30.5" letter-spacing="2.2" fill="#dbe5f3" stroke="#dbe5f3" stroke-width="0.9" fill-opacity=".93" stroke-opacity=".93">FX678</text>
<path d="M455 636.5H575" stroke="#e6ebf2" fill="none"/>
<path d="M92.5 558.6L96.5 552.6L100.5 551.1L104.5 557.8L108.5 564.3L112.5 546.6L116.5 542.0L120.5 533.3L124.5 537.5L128.5 535.3L132.5 569.1L136.5 555.6L140.5 553.3L144.5 564.6L148.5 579.6L152.5 589.0L156.5 592.9L160.5 594.7L164.5 596.9L168.5 606.4L172.5 604.5L176.5 596.2L180.5 602.9L184.5 591.4L188.5 595.0L192.5 590.9L196.5 571.4L200.5 592.4L204.5 575.9L208.5 567.6L212.5 576.3L216.5 566.4L220.5 573.3L224.5 562.3L228.5 563.4L232.5 554.8L236.5 545.4L240.5 551.1L244.5 560.1L248.5 558.3L252.5 581.1L256.5 580.4L260.5 575.4L264.5 581.9L268.5 584.2L272.5 591.4L276.5 578.1L280.5 568.6L284.5 564.2L288.5 556.3L292.5 563.8L296.5 579.6L300.5 588.7L304.5 597.4L308.5 583.4L312.5 588.7L316.5 590.9L320.5 596.2L324.5 614.2L328.5 606.7L332.5 598.4L336.5 606.0L340.5 579.3L344.5 575.9L348.5 598.4L352.5 586.4L356.5 594.4L360.5 589.4L364.5 600.4L368.5 583.4L372.5 592.4L376.5 595.0L380.5 581.0L384.5 585.4L388.5 581.9L392.5 567.6L396.5 560.1L400.5 557.4L404.5 568.8L408.5 572.1L412.5 581.9L416.5 584.2L420.5 585.7L424.5 587.2L428.5 598.0L432.5 598.0L436.5 591.4L440.5 587.5L444.5 613.5L448.5 615.0L452.5 602.2L456.5 603.7L460.5 618.0L464.5 603.0L468.5 600.4L472.5 601.2L476.5 603.4L480.5 582.6L484.5 550.3L488.5 547.3L492.5 581.9L496.5 575.9L500.5 569.4L504.5 579.6L508.5 582.3L512.5 574.4L516.5 586.4L520.5 588.4L524.5 585.7L528.5 584.2L532.5 592.4L536.5 589.4L540.5 590.2L544.5 575.4L548.5 594.7L552.5 602.2L556.5 606.4L560.5 584.9L564.5 586.9L568.5 590.4L572.5 588.7" stroke="#2aa5df" stroke-width="1" fill="none" stroke-linejoin="round"/>
</svg>
</body></html>
